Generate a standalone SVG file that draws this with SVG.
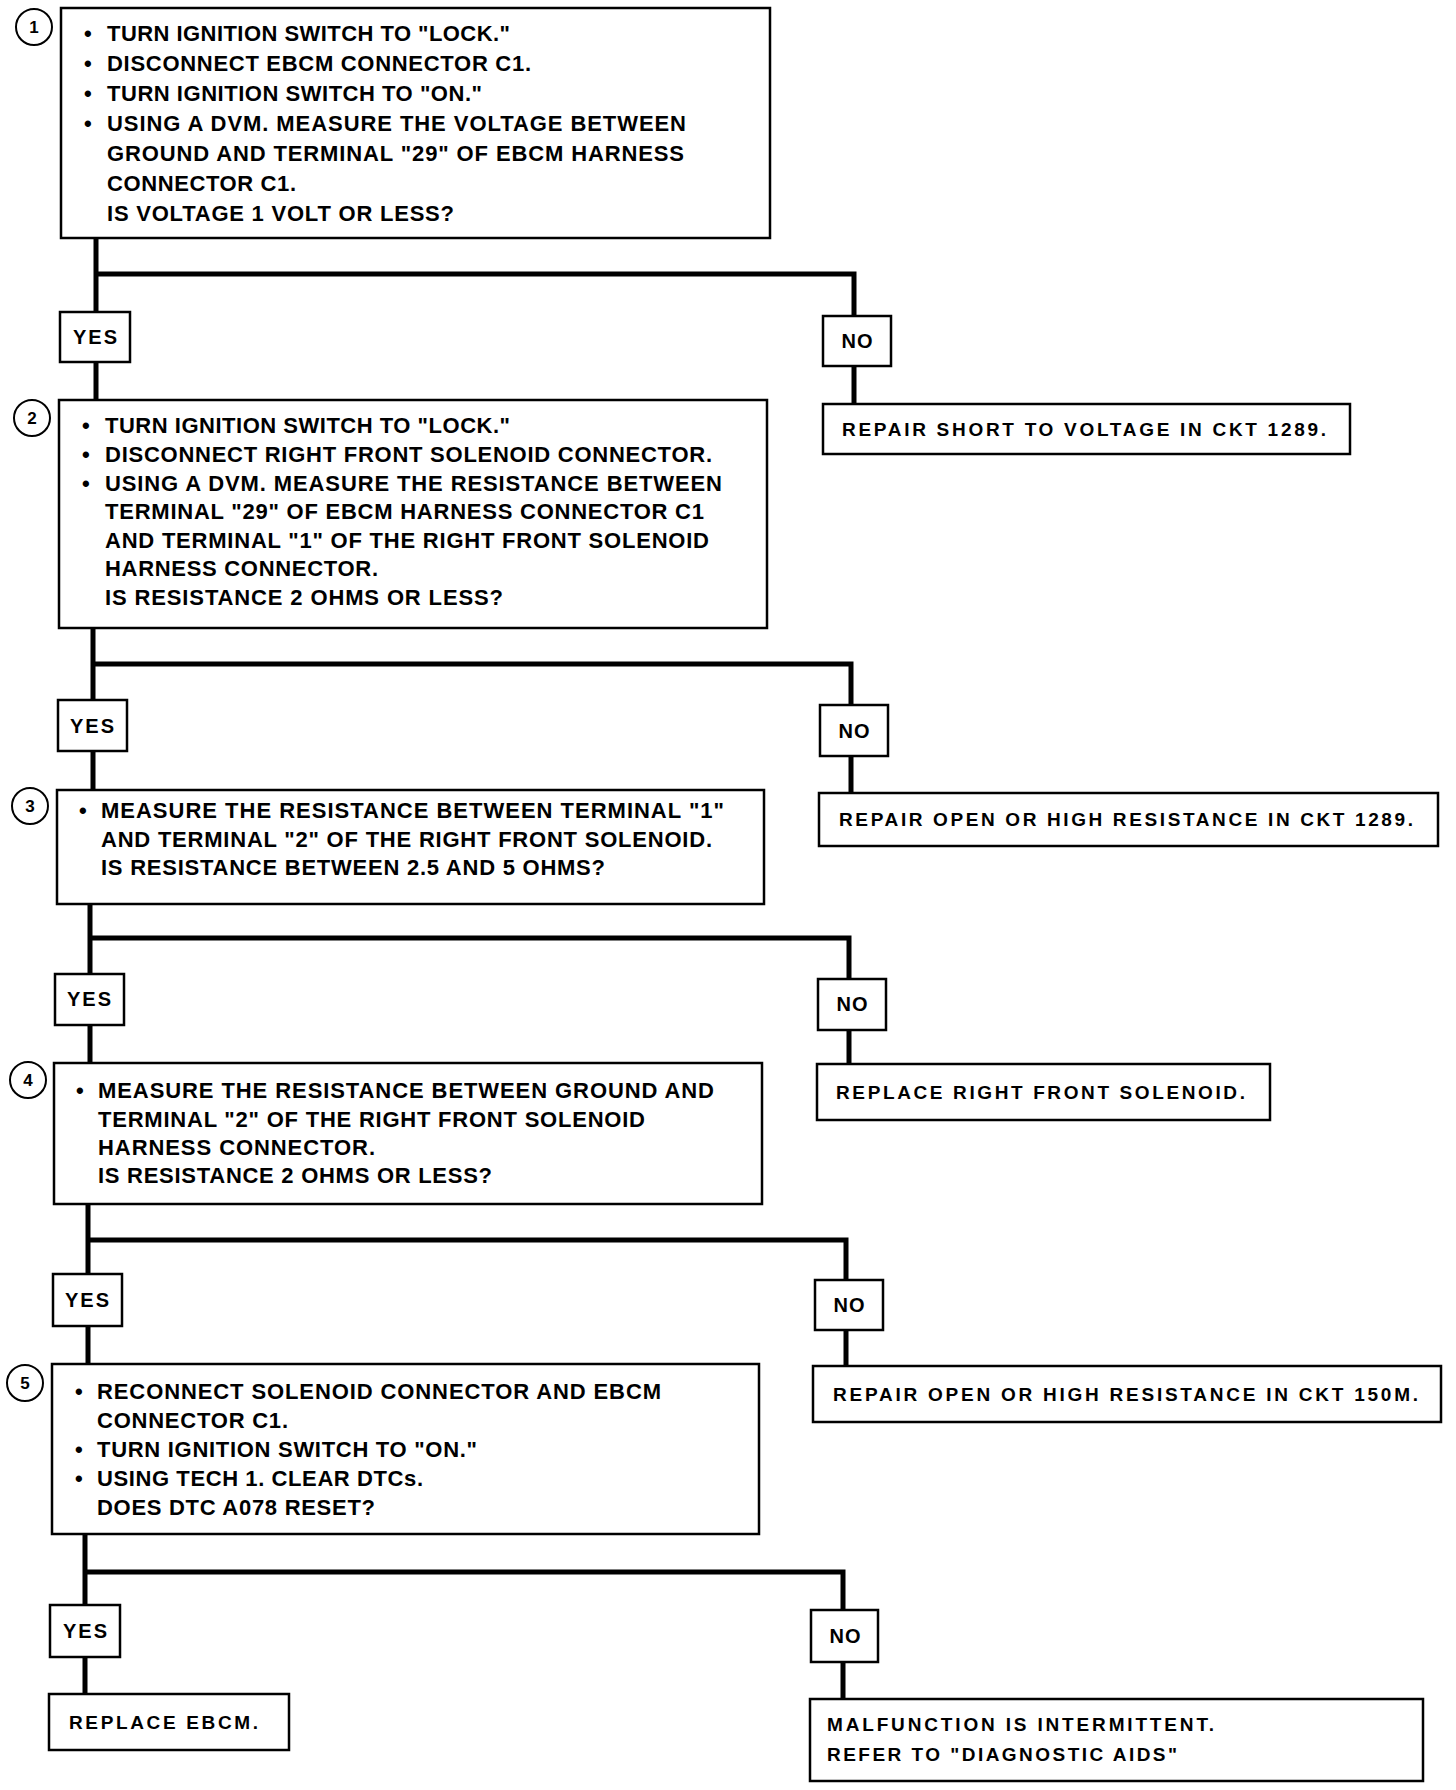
<svg xmlns="http://www.w3.org/2000/svg" width="1456" height="1790" viewBox="0 0 1456 1790">
<style>
.bx{fill:#fff;stroke:#000;stroke-width:2.5}
.tg{fill:#fff;stroke:#000;stroke-width:2.5}
.cn{fill:none;stroke:#000;stroke-width:5;stroke-linejoin:miter}
.ci{fill:#fff;stroke:#000;stroke-width:2}
.t{font-family:"Liberation Sans",Arial,sans-serif;font-weight:bold;font-size:22px;fill:#000}
.r{font-family:"Liberation Sans",Arial,sans-serif;font-weight:bold;font-size:19px;fill:#000}
.l{font-family:"Liberation Sans",Arial,sans-serif;font-weight:bold;font-size:20px;fill:#000;text-anchor:middle}
.n{font-family:"Liberation Sans",Arial,sans-serif;font-weight:bold;font-size:17px;fill:#000;text-anchor:middle}
</style>
<rect x="0" y="0" width="1456" height="1790" fill="#fff"/>
<g id="connectors">
<path class="cn" d="M96 238 V312 M96 274 H854 V316 M96 362 V400 M854 366 V404"/>
<path class="cn" d="M93 628 V700 M93 664 H851 V705 M93 751 V790 M851 756 V793"/>
<path class="cn" d="M90 904 V974 M90 938 H849 V979 M90 1025 V1063 M849 1030 V1064"/>
<path class="cn" d="M88 1204 V1274 M88 1240 H846 V1280 M88 1326 V1364 M846 1330 V1366"/>
<path class="cn" d="M85 1534 V1605 M85 1572 H843 V1610 M85 1657 V1694 M843 1662 V1699"/>
</g>
<g id="step1">
<circle class="ci" cx="34" cy="27" r="18"/><text class="n" x="34" y="33">1</text>
<rect class="bx" x="61" y="8" width="709" height="230"/>
<text class="t" x="84" y="41">•</text><text class="t" x="107" y="41" textLength="403">TURN IGNITION SWITCH TO "LOCK."</text>
<text class="t" x="84" y="71">•</text><text class="t" x="107" y="71" textLength="424">DISCONNECT EBCM CONNECTOR C1.</text>
<text class="t" x="84" y="101">•</text><text class="t" x="107" y="101" textLength="375">TURN IGNITION SWITCH TO "ON."</text>
<text class="t" x="84" y="131">•</text><text class="t" x="107" y="131" textLength="579">USING A DVM. MEASURE THE VOLTAGE BETWEEN</text>
<text class="t" x="107" y="161" textLength="577">GROUND AND TERMINAL "29" OF EBCM HARNESS</text>
<text class="t" x="107" y="191" textLength="189">CONNECTOR C1.</text>
<text class="t" x="107" y="221" textLength="347">IS VOLTAGE 1 VOLT OR LESS?</text>
</g>
<g id="yes1"><rect class="tg" x="60" y="312" width="70" height="50"/><text class="l" x="95" y="344" textLength="44">YES</text></g>
<g id="no1"><rect class="tg" x="823" y="316" width="68" height="50"/><text class="l" x="857" y="348" textLength="31">NO</text></g>
<g id="res1"><rect class="bx" x="823" y="404" width="527" height="50"/><text class="r" x="842" y="436" textLength="484">REPAIR SHORT TO VOLTAGE IN CKT 1289.</text></g>

<g id="step2">
<circle class="ci" cx="32" cy="418" r="18"/><text class="n" x="32" y="424">2</text>
<rect class="bx" x="59" y="400" width="708" height="228"/>
<text class="t" x="82" y="433">•</text><text class="t" x="105" y="433" textLength="405">TURN IGNITION SWITCH TO "LOCK."</text>
<text class="t" x="82" y="462">•</text><text class="t" x="105" y="462" textLength="607">DISCONNECT RIGHT FRONT SOLENOID CONNECTOR.</text>
<text class="t" x="82" y="491">•</text><text class="t" x="105" y="491" textLength="617">USING A DVM. MEASURE THE RESISTANCE BETWEEN</text>
<text class="t" x="105" y="519" textLength="599">TERMINAL "29" OF EBCM HARNESS CONNECTOR C1</text>
<text class="t" x="105" y="548" textLength="604">AND TERMINAL "1" OF THE RIGHT FRONT SOLENOID</text>
<text class="t" x="105" y="576" textLength="273">HARNESS CONNECTOR.</text>
<text class="t" x="105" y="605" textLength="398">IS RESISTANCE 2 OHMS OR LESS?</text>
</g>
<g id="yes2"><rect class="tg" x="58" y="700" width="69" height="51"/><text class="l" x="92" y="733" textLength="44">YES</text></g>
<g id="no2"><rect class="tg" x="820" y="705" width="68" height="51"/><text class="l" x="854" y="738" textLength="31">NO</text></g>
<g id="res2"><rect class="bx" x="819" y="793" width="619" height="53"/><text class="r" x="839" y="826" textLength="574">REPAIR OPEN OR HIGH RESISTANCE IN CKT 1289.</text></g>

<g id="step3">
<circle class="ci" cx="30" cy="806" r="18"/><text class="n" x="30" y="812">3</text>
<rect class="bx" x="57" y="790" width="707" height="114"/>
<text class="t" x="79" y="818">•</text><text class="t" x="101" y="818" textLength="623">MEASURE THE RESISTANCE BETWEEN TERMINAL "1"</text>
<text class="t" x="101" y="847" textLength="611">AND TERMINAL "2" OF THE RIGHT FRONT SOLENOID.</text>
<text class="t" x="101" y="875" textLength="504">IS RESISTANCE BETWEEN 2.5 AND 5 OHMS?</text>
</g>
<g id="yes3"><rect class="tg" x="55" y="974" width="69" height="51"/><text class="l" x="89" y="1006" textLength="44">YES</text></g>
<g id="no3"><rect class="tg" x="818" y="979" width="68" height="51"/><text class="l" x="852" y="1011" textLength="31">NO</text></g>
<g id="res3"><rect class="bx" x="817" y="1064" width="453" height="56"/><text class="r" x="836" y="1099" textLength="409">REPLACE RIGHT FRONT SOLENOID.</text></g>

<g id="step4">
<circle class="ci" cx="28" cy="1080" r="18"/><text class="n" x="28" y="1086">4</text>
<rect class="bx" x="54" y="1063" width="708" height="141"/>
<text class="t" x="76" y="1098">•</text><text class="t" x="98" y="1098" textLength="616">MEASURE THE RESISTANCE BETWEEN GROUND AND</text>
<text class="t" x="98" y="1127" textLength="547">TERMINAL "2" OF THE RIGHT FRONT SOLENOID</text>
<text class="t" x="98" y="1155" textLength="277">HARNESS CONNECTOR.</text>
<text class="t" x="98" y="1183" textLength="394">IS RESISTANCE 2 OHMS OR LESS?</text>
</g>
<g id="yes4"><rect class="tg" x="53" y="1274" width="69" height="52"/><text class="l" x="87" y="1307" textLength="44">YES</text></g>
<g id="no4"><rect class="tg" x="815" y="1280" width="68" height="50"/><text class="l" x="849" y="1312" textLength="31">NO</text></g>
<g id="res4"><rect class="bx" x="813" y="1366" width="628" height="56"/><text class="r" x="833" y="1401" textLength="585">REPAIR OPEN OR HIGH RESISTANCE IN CKT 150M.</text></g>

<g id="step5">
<circle class="ci" cx="25" cy="1383" r="18"/><text class="n" x="25" y="1389">5</text>
<rect class="bx" x="52" y="1364" width="707" height="170"/>
<text class="t" x="75" y="1399">•</text><text class="t" x="97" y="1399" textLength="564">RECONNECT SOLENOID CONNECTOR AND EBCM</text>
<text class="t" x="97" y="1428" textLength="191">CONNECTOR C1.</text>
<text class="t" x="75" y="1457">•</text><text class="t" x="97" y="1457" textLength="380">TURN IGNITION SWITCH TO "ON."</text>
<text class="t" x="75" y="1486">•</text><text class="t" x="97" y="1486" textLength="326">USING TECH 1. CLEAR DTCs.</text>
<text class="t" x="97" y="1515" textLength="278">DOES DTC A078 RESET?</text>
</g>
<g id="yes5"><rect class="tg" x="50" y="1605" width="70" height="52"/><text class="l" x="85" y="1638" textLength="44">YES</text></g>
<g id="no5"><rect class="tg" x="811" y="1610" width="67" height="52"/><text class="l" x="845" y="1643" textLength="31">NO</text></g>
<g id="res5yes"><rect class="bx" x="49" y="1694" width="240" height="56"/><text class="r" x="69" y="1729" textLength="189">REPLACE EBCM.</text></g>
<g id="res5no"><rect class="bx" x="810" y="1699" width="613" height="82"/>
<text class="r" x="827" y="1731" textLength="387">MALFUNCTION IS INTERMITTENT.</text>
<text class="r" x="827" y="1761" textLength="350">REFER TO "DIAGNOSTIC AIDS"</text></g>
</svg>
